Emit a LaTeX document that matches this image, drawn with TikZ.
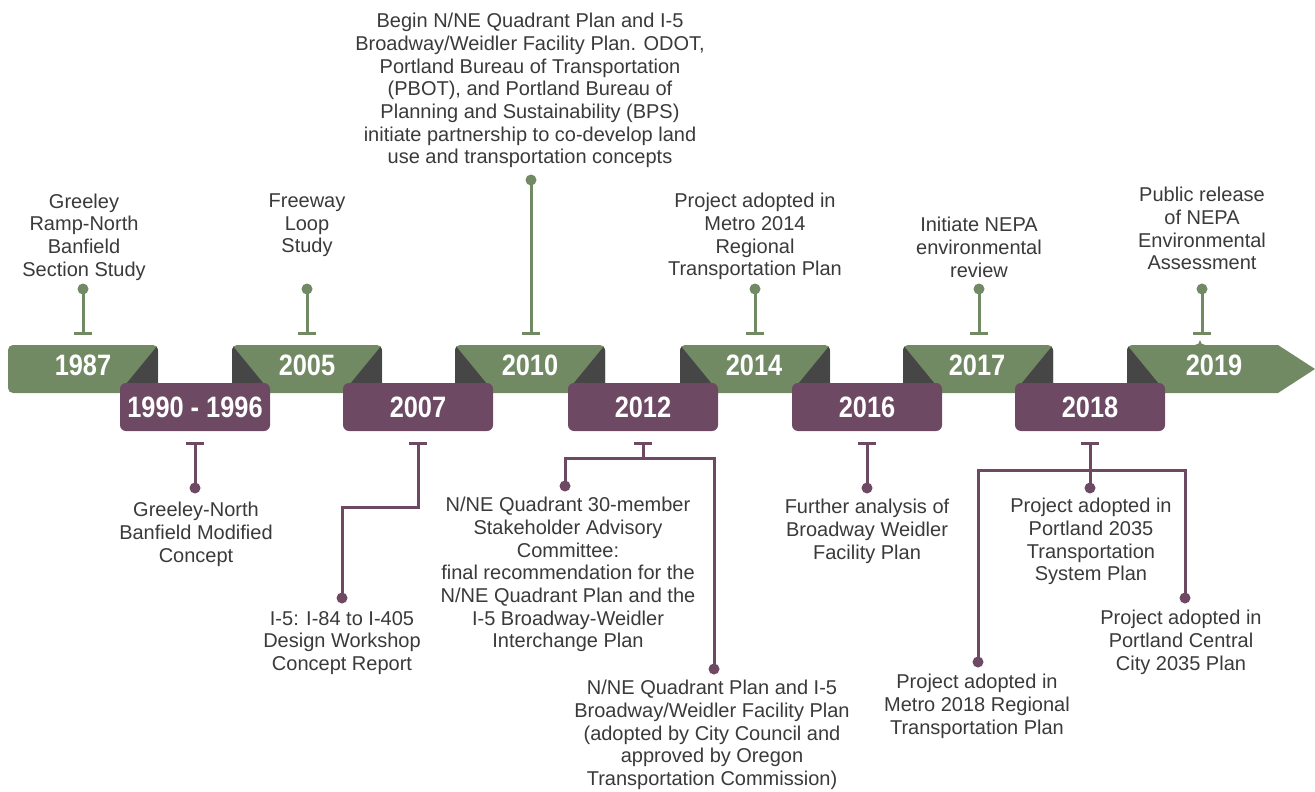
\documentclass[tikz,border=0pt]{standalone}
\usepackage{fontspec}
\setmainfont{Liberation Sans}
\newfontfamily\yearfont{Liberation Sans}[UprightFont=* Bold, FakeStretch=0.86]
\definecolor{tlgreen}{HTML}{718A64}
\definecolor{tlpurple}{HTML}{6E4964}
\definecolor{tldark}{HTML}{464646}
\definecolor{tltext}{HTML}{3A3A3A}
\tikzset{
  yearlbl/.style={font=\yearfont\fontsize{29.5}{31}\selectfont, text=white, inner sep=0pt},
  desc/.style={font=\fontsize{20}{22.7}\selectfont, text=tltext, align=center, inner sep=0pt, anchor=north},
  gstem/.style={draw=tlgreen, line width=3pt},
  pstem/.style={draw=tlpurple, line width=3pt},
  gdot/.style={circle, fill=tlgreen, minimum size=11pt, inner sep=0pt},
  pdot/.style={circle, fill=tlpurple, minimum size=11pt, inner sep=0pt},
}
\begin{document}
\begin{tikzpicture}[x=1pt,y=-1pt]
\useasboundingbox (0,0) rectangle (1315,792);
\fill[white] (0,0) rectangle (1315,792);
% green boxes
\foreach \x/\l/\r in {8/0/1, 232/1/1, 455/1/1, 680/1/1, 903/1/1} {
  \fill[tlgreen, rounded corners=5pt] (\x,345) rectangle ({\x+150},393);
  \begin{scope}
    \clip[rounded corners=5pt] (\x,345) rectangle ({\x+150},393);
    \ifnum\r=1 \fill[tldark] ({\x+150},345) -- ({\x+150},384) -- ({\x+118},384) -- cycle; \fi
    \ifnum\l=1 \fill[tldark] (\x,345) -- (\x,384) -- ({\x+32},384) -- cycle; \fi
  \end{scope}
}
% final arrow box
\fill[tlgreen] (1200,345) -- (1278,345) -- (1315,369) -- (1278,393) -- (1200,393) [rounded corners=5pt] -- (1127,393) -- (1127,345) -- (1200,345) -- cycle;
\begin{scope}
  \clip[rounded corners=5pt] (1127,345) rectangle (1250,393);
  \fill[tldark] (1127,345) -- (1127,384) -- (1159,384) -- cycle;
\end{scope}
% purple boxes
\foreach \x in {120, 343, 568, 792, 1015} {
  \fill[tlpurple, rounded corners=6pt] (\x,383) rectangle ({\x+150},431);
}
% year labels
\node[yearlbl] (y1987) at (83,365) {1987};
\node[yearlbl] (y2005) at (307,365) {2005};
\node[yearlbl] (y2010) at (530,365) {2010};
\node[yearlbl] (y2014) at (754,365) {2014};
\node[yearlbl] (y2017) at (977,365) {2017};
\node[yearlbl] (y2019) at (1214,365) {2019};
\node[yearlbl] (y1990) at (195,407) {1990 - 1996};
\node[yearlbl] (y2007) at (418,407) {2007};
\node[yearlbl] (y2012) at (643,407) {2012};
\node[yearlbl] (y2016) at (867,407) {2016};
\node[yearlbl] (y2018) at (1090,407) {2018};
% green stems (top)
\foreach \n/\x/\d in {a/83/289, b/307/289, c/531/180, d/755/289, e/979/289, f/1202/289} {
  \coordinate (gt\n) at (\x,333);
  \node[gdot] (gd\n) at (\x,\d) {};
  \draw[gstem] (gd\n.center) -- (gt\n);
  \draw[gstem] ([xshift=-9pt]gt\n) -- ([xshift=9pt]gt\n);
}
% purple stems (bottom)
\foreach \n/\x in {a/195, b/418, c/643, d/867, e/1090} {
  \coordinate (pt\n) at (\x,443);
  \draw[pstem] ([xshift=-9pt]pt\n) -- ([xshift=9pt]pt\n);
}
\node[pdot] (pda) at (195,488) {};
\draw[pstem] (pta) -- (pda.center);
\node[pdot] (pdb) at (342,598) {};
\coordinate (bk1) at (418,507);
\draw[pstem] (ptb) -- (bk1) -| (pdb.center);
\node[pdot] (pdc1) at (565,486) {};
\node[pdot] (pdc2) at (714,669) {};
\coordinate (bk2) at (643,458);
\draw[pstem] (ptc) -- (bk2);
\draw[pstem] (pdc1.center) |- (bk2) -| (pdc2.center);
\node[pdot] (pdd) at (867,488) {};
\draw[pstem] (ptd) -- (pdd.center);
\node[pdot] (pde1) at (1090,488) {};
\node[pdot] (pde2) at (978,662) {};
\node[pdot] (pde3) at (1185,598) {};
\coordinate (bk3) at (1090,470);
\draw[pstem] (pte) -- (pde1.center);
\draw[pstem] (pde2.center) |- (bk3) -| (pde3.center);
% top descriptions
\node[desc] (t1987) at (84,193.5) {Greeley\\Ramp-North\\Banfield\\Section Study};
\node[desc] (t2005) at (307,193.5) {Freeway\\Loop\\Study};
\node[desc] (t2010) at (530,13) {Begin N/NE Quadrant Plan and I-5\\Broadway/Weidler Facility Plan. ODOT,\\Portland Bureau of Transportation\\(PBOT), and Portland Bureau of\\Planning and Sustainability (BPS)\\initiate partnership to co-develop land\\use and transportation concepts};
\node[desc] (t2014) at (755,193) {Project adopted in\\Metro 2014\\Regional\\Transportation Plan};
\node[desc] (t2017) at (979,217) {Initiate NEPA\\environmental\\review};
\node[desc] (t2019) at (1202,187) {Public release\\of NEPA\\Environmental\\Assessment};
% bottom descriptions
\node[desc] (t1990) at (196,502) {Greeley-North\\Banfield Modified\\Concept};
\node[desc] (t2007) at (342,611) {I-5: I-84 to I-405\\Design Workshop\\Concept Report};
\node[desc] (t2012a) at (568,497) {N/NE Quadrant 30-member\\Stakeholder Advisory\\Committee:\\final recommendation for the\\N/NE Quadrant Plan and the\\I-5 Broadway-Weidler\\Interchange Plan};
\node[desc] (t2012b) at (712,680) {N/NE Quadrant Plan and I-5\\Broadway/Weidler Facility Plan\\(adopted by City Council and\\approved by Oregon\\Transportation Commission)};
\node[desc] (t2016) at (867,499) {Further analysis of\\Broadway Weidler\\Facility Plan};
\node[desc] (t2018a) at (1091,498) {Project adopted in\\Portland 2035\\Transportation\\System Plan};
\node[desc] (t2018b) at (1181,610) {Project adopted in\\Portland Central\\City 2035 Plan};
\node[desc] (t2018c) at (977,674) {Project adopted in\\Metro 2018 Regional\\Transportation Plan};
\end{tikzpicture}
\end{document}
